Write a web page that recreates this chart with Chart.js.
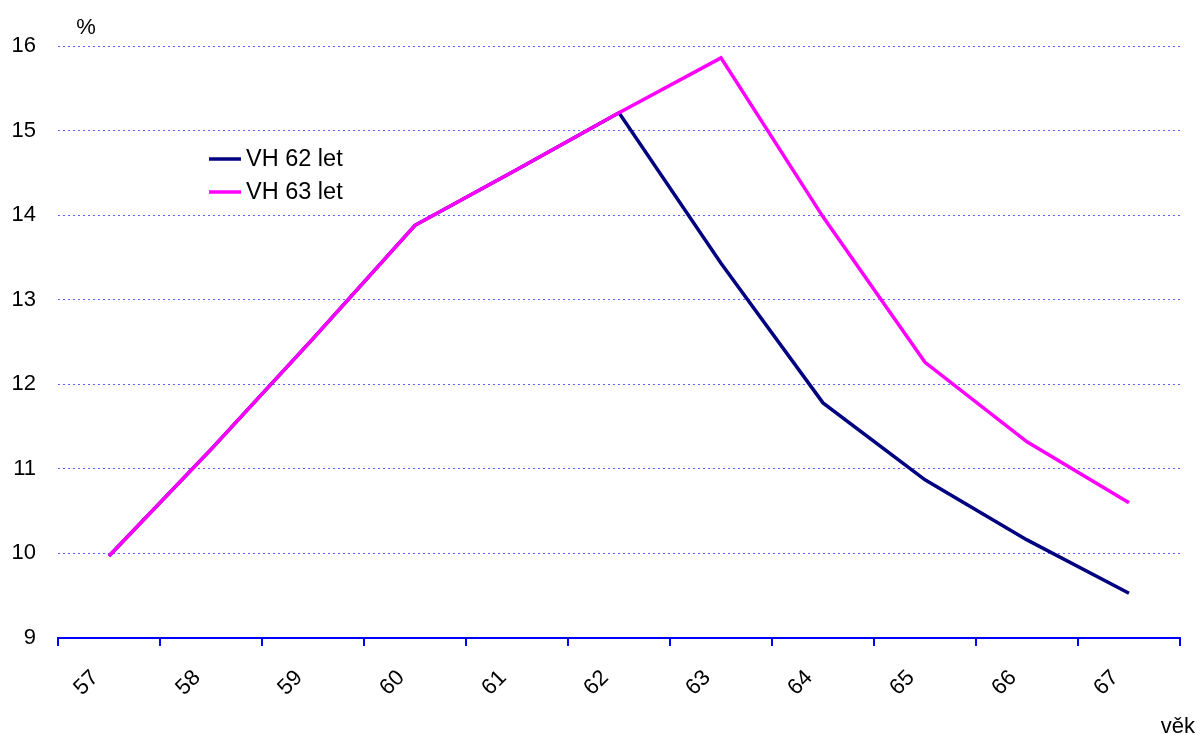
<!DOCTYPE html>
<html>
<head>
<meta charset="utf-8">
<script src="https://cdn.jsdelivr.net/npm/chart.js@4.4.1/dist/chart.umd.min.js"></script>
<style>
html,body{margin:0;padding:0;background:#fff;}
#wrap{width:1197px;height:735px;position:relative;}
</style>
</head>
<body>
<div id="wrap"><canvas id="c" width="1197" height="735"></canvas></div>
<script>
const categories = ['57','58','59','60','61','62','63','64','65','66','67'];
const vh62 = [9.97, 11.23, 12.54, 13.88, 14.54, 15.21, 13.43, 11.78, 10.87, 10.16, 9.53];
const vh63 = [9.97, 11.23, 12.54, 13.88, 14.54, 15.21, 15.86, 13.98, 12.26, 11.32, 10.60];
const seriesNames = ['VH 62 let', 'VH 63 let'];
const yTicks = [9, 10, 11, 12, 13, 14, 15, 16];
const yUnit = '%';
const xUnit = 'věk';

const FONT = '"Liberation Sans", Arial, sans-serif';
const NAVY = '#000080';
const PINK = '#ff00ff';
const AXIS = '#0000ff';

const extras = {
  id: 'extras',
  afterDraw(chart) {
    const ctx = chart.ctx;
    ctx.save();
    ctx.font = '22px ' + FONT;
    ctx.fillStyle = '#000';
    ctx.textBaseline = 'middle';
    ctx.textAlign = 'center';
    ctx.fillText(yUnit, 86, 28);
    ctx.textAlign = 'right';
    ctx.fillText(xUnit, 1195, 727);
    // legend
    ctx.font = '23.5px ' + FONT;
    const items = [[seriesNames[0], NAVY, 159], [seriesNames[1], PINK, 192]];
    ctx.textAlign = 'left';
    for (const [label, col, y] of items) {
      ctx.strokeStyle = col;
      ctx.lineWidth = 3.5;
      ctx.beginPath();
      ctx.moveTo(209, y);
      ctx.lineTo(241, y);
      ctx.stroke();
      ctx.fillStyle = '#000';
      ctx.fillText(label, 246, y + 1);
    }
    ctx.restore();
  }
};

new Chart(document.getElementById('c'), {
  type: 'line',
  data: {
    labels: categories,
    datasets: [
      { label: seriesNames[0], data: vh62, borderColor: NAVY, backgroundColor: NAVY, borderWidth: 3.5, pointRadius: 0, tension: 0, order: 2 },
      { label: seriesNames[1], data: vh63, borderColor: PINK, backgroundColor: PINK, borderWidth: 3.5, pointRadius: 0, tension: 0, order: 1 }
    ]
  },
  options: {
    responsive: false,
    animation: false,
    layout: { padding: { top: 46, right: 17, left: 0, bottom: 0 } },
    plugins: { legend: { display: false }, tooltip: { enabled: false } },
    scales: {
      x: {
        offset: true,
        grid: { offset: true, drawOnChartArea: false, drawTicks: true, tickLength: 8, color: AXIS, lineWidth: 2 },
        border: { display: true, color: AXIS, width: 2 },
        ticks: { minRotation: 45, maxRotation: 45, color: '#000', font: { family: FONT, size: 22 }, padding: 19, labelOffset: -14 },
        afterFit(scale) { scale.height = 97; }
      },
      y: {
        min: 9, max: 16,
        afterBuildTicks(scale) { scale.ticks = yTicks.map(v => ({ value: v })); },
        grid: { drawTicks: false, color: '#6060ff', lineWidth: 1 },
        border: { display: false, dash: [2, 3] },
        ticks: { color: '#000', font: { family: FONT, size: 22 }, padding: 22 },
        afterFit(scale) { scale.width = 58; }
      }
    }
  },
  plugins: [extras]
});
</script>
</body>
</html>
